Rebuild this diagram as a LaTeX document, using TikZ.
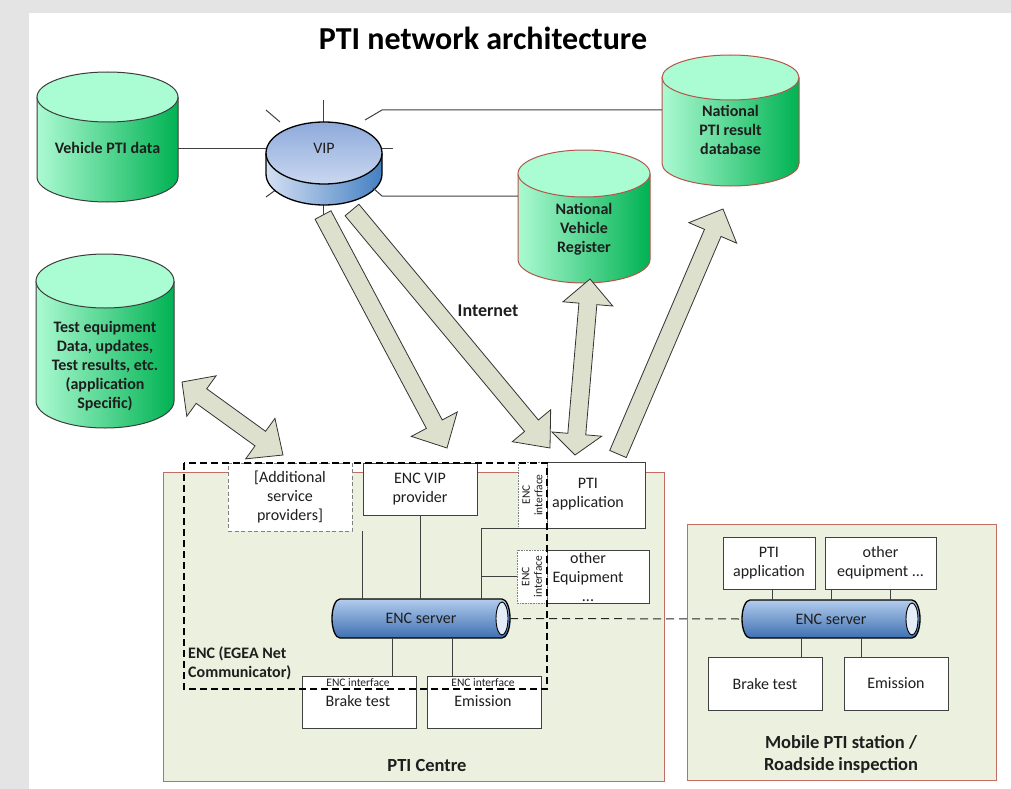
\documentclass[tikz,border=0pt]{standalone}
\usepackage{fontspec}
\setmainfont{Carlito}
\usetikzlibrary{calc}
\definecolor{cylL}{RGB}{172,250,210}
\definecolor{cylR}{RGB}{0,178,82}
\definecolor{cylTop}{RGB}{170,252,210}
\definecolor{natEdge}{RGB}{180,85,75}
\definecolor{darkEdge}{RGB}{60,60,60}
\definecolor{ctrFill}{RGB}{235,241,222}
\definecolor{ctrEdge}{RGB}{192,110,100}
\definecolor{arrFill}{RGB}{221,224,204}
\definecolor{lineGray}{RGB}{64,64,64}
\definecolor{txt}{RGB}{30,30,30}
\definecolor{bgGray}{RGB}{228,228,228}
\definecolor{vipTopA}{RGB}{142,170,219}
\definecolor{vipTopB}{RGB}{202,216,240}
\definecolor{vipSideL}{RGB}{212,224,243}
\definecolor{vipSideR}{RGB}{68,128,195}
\definecolor{tubeTop}{RGB}{178,204,236}
\definecolor{tubeBot}{RGB}{62,112,178}
\definecolor{tubeEnd}{RGB}{228,236,248}

\newcommand\dbcyl[6]{%
  \pgfmathsetmacro\cylcx{(#1+#2)/2}%
  \pgfmathsetmacro\cylrx{(#2-#1)/2}%
  \shade[left color=cylL,right color=cylR] (#1,#3) -- (#1,#4) arc[start angle=180,end angle=0,x radius=\cylrx,y radius=#5] -- (#2,#3) -- cycle;
  \draw[#6,line width=1pt] (#1,#3) -- (#1,#4) arc[start angle=180,end angle=0,x radius=\cylrx,y radius=#5] -- (#2,#3);
  \filldraw[fill=cylTop,draw=#6,line width=1pt] (\cylcx,#3) ellipse[x radius=\cylrx,y radius=#5];
}
\newcommand\sarrow[5]{%
  \coordinate (ha) at ($(#2)!#5pt!(#1)$);
  \draw[blockarr] ($(#1)!#3pt!90:(#2)$) -- ($(ha)!#3pt!90:(#2)$) -- ($(ha)!#4pt!90:(#2)$) -- (#2) -- ($(ha)!#4pt!-90:(#2)$) -- ($(ha)!#3pt!-90:(#2)$) -- ($(#1)!#3pt!-90:(#2)$) -- cycle;
}
\newcommand\darrow[6]{%
  \coordinate (ha) at ($(#1)!#5pt!(#2)$);
  \coordinate (hb) at ($(#2)!#6pt!(#1)$);
  \draw[blockarr] (#1) -- ($(ha)!#4pt!90:(#2)$) -- ($(ha)!#3pt!90:(#2)$) -- ($(hb)!#3pt!90:(#2)$) -- ($(hb)!#4pt!90:(#2)$) -- (#2) -- ($(hb)!#4pt!-90:(#2)$) -- ($(hb)!#3pt!-90:(#2)$) -- ($(ha)!#3pt!-90:(#2)$) -- ($(ha)!#4pt!-90:(#2)$) -- cycle;
}
\newcommand\tube[4]{% left, right, top, bottom
  \pgfmathsetmacro\tubecy{(#3+#4)/2}%
  \pgfmathsetmacro\tubery{(#4-#3)/2}%
  \shadedraw[top color=tubeTop,bottom color=tubeBot,line width=1.3pt] (#1+8,#3) -- (#2-8,#3) arc[start angle=270,end angle=450,x radius=8,y radius=\tubery] -- (#1+8,#4) arc[start angle=90,end angle=270,x radius=8,y radius=\tubery] -- cycle;
  \filldraw[fill=tubeEnd,draw=black,line width=0.9pt] (#2-8,\tubecy) ellipse[x radius=6,y radius=\tubery-3];
}

\tikzset{
  box/.style={draw=lineGray,fill=white,line width=0.9pt,inner sep=0pt,align=center,font=\fontsize{16}{19}\selectfont,text=txt},
  txtnode/.style={inner sep=0pt,align=center,text=txt,font=\fontsize{16}{19}\selectfont},
  cyltext/.style={inner sep=0pt,align=center,text=txt,font=\bfseries\fontsize{16}{19}\selectfont},
  strip/.style={draw=gray,densely dotted,fill=white,line width=0.6pt,inner sep=0pt,align=center,text=txt,font=\fontsize{11.5}{12.5}\selectfont},
  small/.style={inner sep=0pt,text=txt,font=\fontsize{11.5}{13}\selectfont},
  link/.style={draw=lineGray,line width=1pt},
  blockarr/.style={draw=black!80,fill=arrFill,line width=0.8pt,line join=miter},
  area/.style={fill=ctrFill,draw=ctrEdge,line width=1pt},
  enc/.style={draw=black,line width=1.4pt,dash pattern=on 7pt off 4pt},
}

\begin{document}
\begin{tikzpicture}[x=1pt,y=-1pt]
\useasboundingbox (0,0) rectangle (1011,789);
\fill[bgGray] (0,0) rectangle (1011,789);
\fill[white] (29,13) rectangle (1011,789);

% title
\node[inner sep=0pt,text=black,font=\bfseries\fontsize{32}{36}\selectfont] (title) at (483,38) {PTI network architecture};

% cylinders
\dbcyl{37}{178}{97}{177}{25}{darkEdge}
\node[cyltext,minimum width=141pt] (vpd) at (107.5,148) {Vehicle PTI data};
\dbcyl{36}{174}{281}{401}{27}{darkEdge}
\node[cyltext,minimum width=138pt] (ted) at (105,366) {Test equipment\\Data, updates,\\Test results, etc.\\(application\\Specific)};
\dbcyl{662}{799}{77.5}{163.5}{22.5}{natEdge}
\node[cyltext,minimum width=137pt] (nprd) at (730.5,130) {National\\PTI result\\database};
\dbcyl{518}{650}{173.5}{259.5}{23.5}{natEdge}
\node[cyltext,minimum width=132pt] (nvr) at (584,229) {National\\Vehicle\\Register};

% VIP disk
\draw[link] (323,100) -- (323,122);
\draw[link] (266,110) -- (280,122);
\draw[link] (382,148) -- (393,148);
\draw[link] (266,197) -- (277,189);
\draw[link] (323,205) -- (323,215);
\shade[left color=vipSideL,right color=vipSideR] (266,153) -- (266,174) arc[start angle=180,end angle=0,x radius=58,y radius=31] -- (382,153) -- cycle;
\draw[line width=1.3pt] (266,153) -- (266,174) arc[start angle=180,end angle=0,x radius=58,y radius=31] -- (382,153);
\shadedraw[top color=vipTopA,bottom color=vipTopB,draw=black,line width=1.3pt] (324,153) ellipse[x radius=58,y radius=31];
\node[txtnode,minimum width=116pt] (vip) at (324,148) {VIP};

% VIP links
\draw[link] (vip.west) -- (vpd.east);
\coordinate (s1) at (365,120);
\coordinate (s1b) at (382,110);
\draw[link] (s1) -- (s1b) -- (s1b -| nprd.west);
\coordinate (s2) at (373,188);
\coordinate (s2b) at (382,196);
\draw[link] (s2) -- (s2b) -- (s2b -| nvr.west);

% areas
\draw[area] (163,472) rectangle (664,781);
\node[inner sep=0pt,text=txt,font=\bfseries\fontsize{18.5}{22}\selectfont] (ctrlbl) at (427,765) {PTI Centre};
\draw[area] (687,524) rectangle (996,780);
\node[inner sep=0pt,align=center,text=txt,font=\bfseries\fontsize{18.5}{22}\selectfont] (moblbl) at (841,754) {Mobile PTI station /\\Roadside inspection};

% PTI centre boxes
\node[box,draw=gray,dash pattern=on 4pt off 2.5pt,minimum width=124pt,minimum height=68pt] (addsp) at (290,497) {[Additional\\service\\providers]};
\node[box,minimum width=114pt,minimum height=52pt] (encvip) at (420,489) {ENC VIP\\provider};
\node[box,minimum width=98pt,minimum height=66pt] (ptiapp) at (596,495) {};
\node[txtnode] (ptitext) at (588,494.5) {PTI\\application};
\node[strip,rotate=90,minimum width=66pt,minimum height=29pt] (pstrip) at (532.5,495) {ENC\\interface};
\node[box,minimum width=102pt,minimum height=53pt] (otheq) at (598,576.5) {};
\node[txtnode] (othtext) at (588,577) {other\\Equipment\\...};
\node[strip,rotate=90,minimum width=53pt,minimum height=30pt] (ostrip) at (532,576.5) {ENC\\interface};
\node[box,minimum width=114pt,minimum height=52pt] (brake) at (359,702) {};
\node[small] (brakeif) at (358,683) {ENC interface};
\node[txtnode] (braketext) at (358,701) {Brake test};
\node[box,minimum width=114pt,minimum height=52pt] (emis) at (484,702) {};
\node[small] (emisif) at (483,683) {ENC interface};
\node[txtnode] (emistext) at (483,701) {Emission};

% ENC server (centre)
\tube{332}{510}{599}{638}
\node[txtnode,minimum width=178pt,minimum height=39pt] (encs) at (421,618.5) {ENC server};

% links in centre
\coordinate (j2) at (362,531);
\draw[link] (j2) -- (j2 |- encs.north);
\draw[link] (encvip.south) -- (encvip.south |- encs.north);
\coordinate (j1) at (481,528);
\draw[link] (ptiapp.south) -- (ptiapp.south -| j1) -- (j1 |- encs.north);
\draw[link] (j1 |- ostrip.north) -- (ostrip.north);
\coordinate (b1) at (392,0);
\draw[link] (encs.south -| b1) -- (brake.north -| b1);
\coordinate (b2) at (452,0);
\draw[link] (encs.south -| b2) -- (emis.north -| b2);

% ENC dashed region
\draw[enc] (184,463) rectangle (547,689);
\node[inner sep=0pt,align=left,anchor=west,text=txt,font=\bfseries\fontsize{16}{19}\selectfont] (enclbl) at (188,663.5) {ENC (EGEA Net\\Communicator)};

% mobile station
\node[box,minimum width=92pt,minimum height=52pt] (mpti) at (769,563) {PTI\\application};
\node[box,minimum width=111pt,minimum height=52pt] (mother) at (880.5,563) {other\\equipment ...};
\node[box,minimum width=114pt,minimum height=53pt] (mbrake) at (765,683.5) {Brake test};
\node[box,minimum width=104pt,minimum height=53pt] (memis) at (896,683.5) {Emission};
\tube{742}{920}{600}{638}
\node[txtnode,minimum width=178pt,minimum height=38pt] (mencs) at (831,619) {ENC server};
\coordinate (m1) at (772,0);
\draw[link] (mpti.south -| m1) -- (mencs.north -| m1);
\coordinate (m2) at (831,0);
\draw[link] (mother.south -| m2) -- (mencs.north -| m2);
\coordinate (m3) at (890,0);
\draw[link] (mother.south -| m3) -- (mencs.north -| m3);
\coordinate (m4) at (801,0);
\draw[link] (mencs.south -| m4) -- (mbrake.north -| m4);
\coordinate (m5) at (861,0);
\draw[link] (mencs.south -| m5) -- (memis.north -| m5);

% dashed link between servers
\draw[draw=black!85,line width=1pt,dash pattern=on 8pt off 5pt] (encs.east) -- (mencs.west);

% block arrows
\coordinate (a1s) at (323,215);
\coordinate (a1e) at (447,448);
\sarrow{a1s}{a1e}{9}{26}{27}
\coordinate (a2s) at (352,210);
\coordinate (a2e) at (550,448);
\sarrow{a2s}{a2e}{9}{25}{29}
\coordinate (a3s) at (590,279);
\coordinate (a3e) at (575,455);
\darrow{a3s}{a3e}{9}{25}{25}{21}
\coordinate (a4s) at (618,454);
\coordinate (a4e) at (723,209);
\sarrow{a4s}{a4e}{9}{26}{26}
\coordinate (a5s) at (182,382);
\coordinate (a5e) at (283,455);
\darrow{a5s}{a5e}{9}{25}{24}{28}

\node[inner sep=0pt,text=txt,font=\bfseries\fontsize{18}{20}\selectfont] (inet) at (488,311) {Internet};
\end{tikzpicture}
\end{document}
